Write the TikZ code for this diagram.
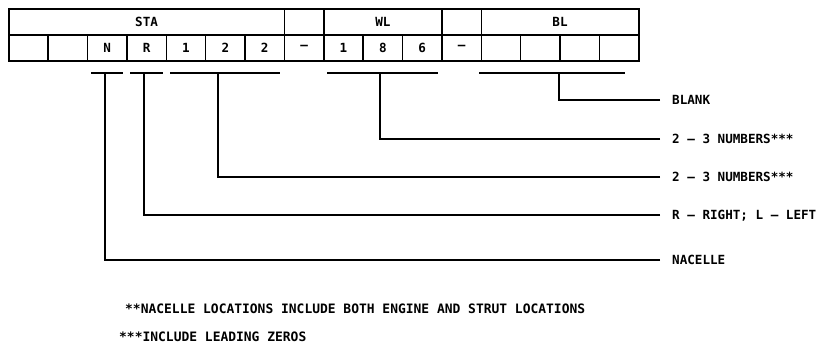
\documentclass[tikz,border=0pt]{standalone}
\usepackage{fontspec}
\setmonofont{DejaVu Sans Mono}
\begin{document}
\begin{tikzpicture}[
        x=1pt, y=-1pt,
        font=\ttfamily\bfseries\fontsize{12.6}{15}\selectfont,
        grid/.style={draw, line width=1.6pt, inner sep=0pt, minimum height=26pt, anchor=north west},
        cell/.style={grid, minimum width=39.375pt},
        span/.style={grid, minimum width=#1*39.375pt},
        lead/.style={line width=1.6pt},
        tag/.style={anchor=west, inner xsep=12pt, inner ysep=0pt, text height=9pt, text depth=0pt},
        note/.style={anchor=base west, inner sep=0pt, font=\ttfamily\bfseries\fontsize{12.95}{15}\selectfont}
    ]
        \useasboundingbox (0,0) rectangle (822,346);
        % upper row: field names
        \node[span=7] (sta) at (8,8) {STA};
        \node[span=1] (gapa) at (283.625,8) {};
        \node[span=3] (wl) at (323,8) {WL};
        \node[span=1] (gapb) at (441.125,8) {};
        \node[span=4] (bl) at (480.5,8) {BL};
        % lower row: one character per cell
        \foreach \ch [count=\i from 0] in {{},{},N,R,1,2,2,–,1,8,6,–,{},{},{},{}}
            \node[cell] (c\i) at ({8+\i*39.375},34) {\ch};
        % underlines
        \coordinate (uN) at (105,73);
        \coordinate (uR) at (144,73);
        \coordinate (uS) at (218,73);
        \coordinate (uW) at (380,73);
        \coordinate (uB) at (559,73);
        \draw[lead] (91,73) -- (123,73);
        \draw[lead] (130,73) -- (163,73);
        \draw[lead] (170,73) -- (280,73);
        \draw[lead] (327,73) -- (438,73);
        \draw[lead] (479,73) -- (625,73);
        % explanations
        \node[tag] (blank) at (660,100) {BLANK};
        \node[tag] (wlnum) at (660,139) {2 – 3 NUMBERS***};
        \node[tag] (stanum) at (660,177) {2 – 3 NUMBERS***};
        \node[tag] (side) at (660,215) {R – RIGHT; L – LEFT};
        \node[tag] (nac) at (660,260) {NACELLE};
        \draw[lead] (blank.west) -| (uB);
        \draw[lead] (wlnum.west) -| (uW);
        \draw[lead] (stanum.west) -| (uS);
        \draw[lead] (side.west) -| (uR);
        \draw[lead] (nac.west) -| (uN);
        % footnotes
        \node[note] (fn2) at (125,313) {**NACELLE LOCATIONS INCLUDE BOTH ENGINE AND STRUT LOCATIONS};
        \node[note] (fn3) at (119,341) {***INCLUDE LEADING ZEROS};
    \end{tikzpicture}
\end{document}
